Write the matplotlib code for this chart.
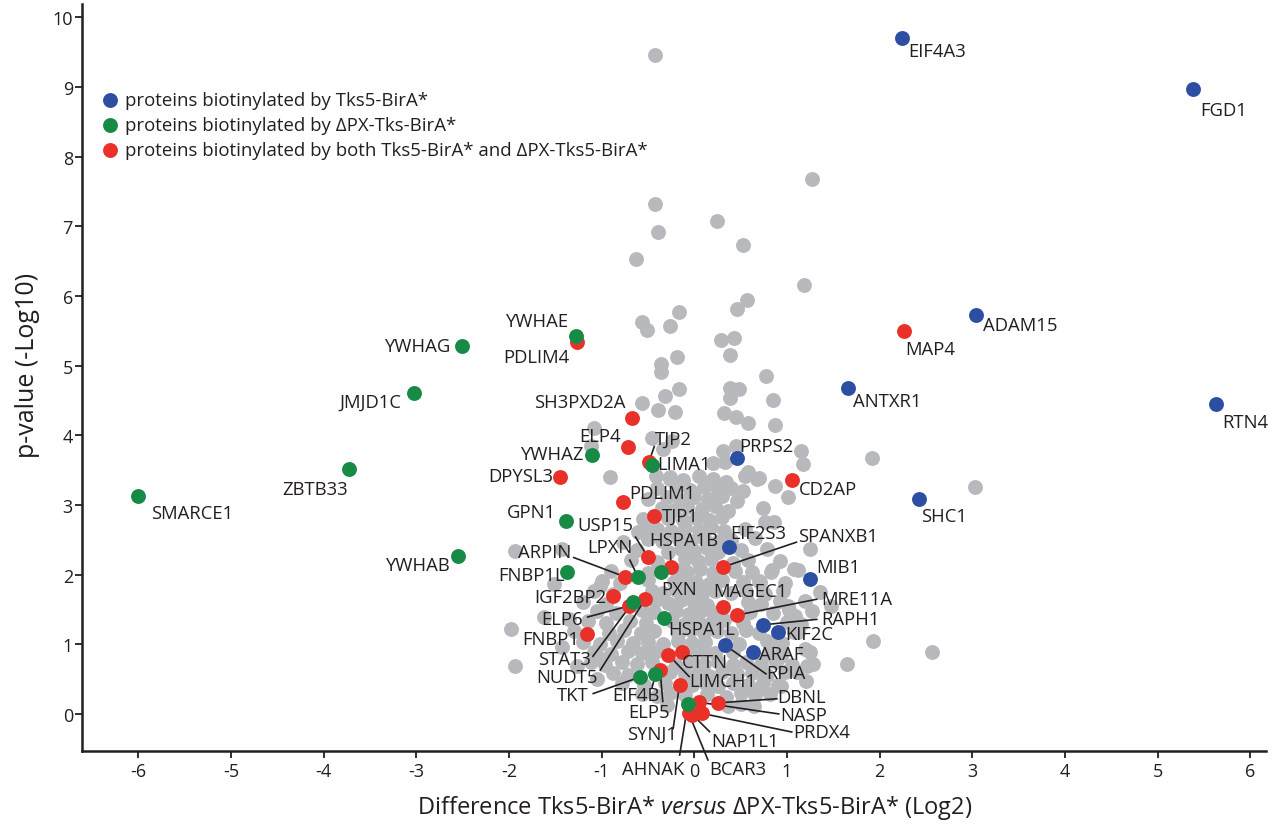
import matplotlib
matplotlib.use("Agg")
import matplotlib.pyplot as plt

plt.rcParams['font.family'] = ['Open Sans', 'DejaVu Sans']
plt.rcParams['mathtext.fontset'] = 'custom'
plt.rcParams['mathtext.rm'] = 'Open Sans'
plt.rcParams['mathtext.it'] = 'Open Sans:italic'

# ---------------------------------------------------------------------------
# Proteins biotinylated by Tks5-BirA* only (log2 difference, -log10 p-value)
blue_names = ['EIF4A3', 'FGD1', 'ADAM15', 'ANTXR1', 'RTN4', 'SHC1', 'PRPS2',
              'EIF2S3', 'MIB1', 'RAPH1', 'KIF2C', 'RPIA', 'ARAF']
blue_x = [2.24, 5.38, 3.04, 1.66, 5.63, 2.42, 0.46, 0.37, 1.25, 0.74, 0.90, 0.33, 0.63]
blue_y = [9.70, 8.97, 5.72, 4.68, 4.45, 3.08, 3.67, 2.40, 1.94, 1.28, 1.18, 0.99, 0.89]

# Proteins biotinylated by dPX-Tks-BirA* only
green_names = ['YWHAG', 'JMJD1C', 'ZBTB33', 'SMARCE1', 'YWHAB', 'YWHAE', 'YWHAZ',
               'LIMA1', 'GPN1', 'FNBP1L', 'LPXN', 'PXN', 'STAT3', 'HSPA1L',
               'TKT', 'EIF4B', 'AHNAK']
green_x = [-2.51, -3.03, -3.73, -6.01, -2.55, -1.28, -1.10, -0.46, -1.39, -1.38,
           -0.61, -0.36, -0.66, -0.33, -0.59, -0.42, -0.07]
green_y = [5.28, 4.61, 3.52, 3.13, 2.27, 5.42, 3.72, 3.57, 2.77, 2.04,
           1.97, 2.04, 1.61, 1.38, 0.53, 0.57, 0.14]

# Proteins biotinylated by both baits
red_names = ['MAP4', 'PDLIM4', 'SH3PXD2A', 'ELP4', 'TJP2', 'DPYSL3', 'CD2AP',
             'PDLIM1', 'TJP1', 'USP15', 'HSPA1B', 'SPANXB1', 'ARPIN', 'IGF2BP2',
             'MAGEC1', 'NUDT5', 'ELP6', 'MRE11A', 'FNBP1', 'CTTN', 'LIMCH1',
             'ELP5', 'SYNJ1', 'DBNL', 'NASP', 'BCAR3', 'NAP1L1', 'PRDX4']
red_x = [2.26, -1.27, -0.67, -0.72, -0.49, -1.45, 1.05, -0.77, -0.44, -0.50,
         -0.25, 0.31, -0.75, -0.88, 0.31, -0.53, -0.71, 0.46, -1.16, -0.13,
         -0.28, -0.37, -0.16, 0.25, 0.05, -0.06, -0.02, 0.08]
red_y = [5.49, 5.34, 4.25, 3.83, 3.62, 3.40, 3.36, 3.04, 2.84, 2.25,
         2.11, 2.11, 1.97, 1.69, 1.54, 1.65, 1.55, 1.42, 1.15, 0.89,
         0.85, 0.63, 0.42, 0.16, 0.17, 0.01, -0.01, 0.01]

# All other quantified proteins
background_points = [
    (-0.43, 9.46), (1.27, 7.68), (-0.42, 7.32), (0.24, 7.07), (-0.39, 6.92),
    (0.53, 6.73), (-0.63, 6.53), (1.18, 6.15), (0.57, 5.94), (0.46, 5.81),
    (-0.17, 5.77), (-0.56, 5.62), (-0.51, 5.51), (-0.26, 5.57), (0.29, 5.37),
    (0.43, 5.39), (0.38, 5.15), (-0.36, 5.02), (-0.19, 5.12), (-0.36, 4.91),
    (0.77, 4.85), (-0.17, 4.66), (0.38, 4.68), (0.48, 4.66), (0.38, 4.53),
    (-0.57, 4.46), (-0.32, 4.56), (-0.39, 4.36), (-0.21, 4.33), (0.32, 4.32),
    (0.45, 4.26), (0.85, 4.50), (0.58, 4.18), (0.87, 4.15), (1.15, 3.77),
    (1.17, 3.59), (-0.46, 3.96), (-0.91, 3.40), (0.31, 3.77), (0.45, 3.85),
    (0.58, 3.47), (0.70, 3.39), (0.33, 3.62), (0.20, 3.60), (1.92, 3.67),
    (3.03, 3.26), (1.25, 2.37), (1.12, 2.07), (1.19, 1.62), (1.27, 1.48),
    (1.48, 1.55), (1.09, 1.41), (1.93, 1.05), (2.56, 0.89), (1.65, 0.72),
    (1.25, 0.89), (1.28, 0.72), (1.21, 0.47), (-1.08, 4.10), (-1.12, 3.84),
    (-0.34, 3.80), (-0.24, 3.92), (-0.41, 3.41), (-0.26, 3.37),
    (-1.94, 2.34), (-1.51, 1.87), (-1.62, 1.39), (-1.35, 1.36), (-1.98, 1.22),
    (-1.43, 0.96), (-1.94, 0.69), (-1.02, 1.84), (-1.43, 2.37), (-0.61, 2.61),
    (-0.77, 2.47), (-0.51, 2.70), (-1.27, 0.69), (-1.00, 0.79), (-1.05, 0.50),
    (0.76, 2.75), (1.08, 2.08), (0.83, 2.04), (0.71, 1.89), (1.05, 1.36),
    (1.12, 1.18), (1.19, 0.93), (0.83, 1.03), (0.94, 0.83), (1.22, 0.69),
    (1.11, 0.60), (0.76, 0.55), (0.69, 0.36), (0.94, 0.40), (1.01, 1.55),
    # dense core
    (-0.26, 3.40), (-0.12, 3.36), (0.05, 3.42), (0.20, 3.38), (0.34, 3.33),
    (0.55, 3.41), (0.68, 3.37),
    (-0.40, 3.24), (-0.20, 3.27), (-0.05, 3.22), (0.10, 3.26), (0.25, 3.21),
    (0.40, 3.25), (0.52, 3.20), (0.87, 3.27),
    (-0.50, 3.08), (-0.30, 3.12), (-0.15, 3.07), (0.00, 3.11), (0.15, 3.09),
    (0.30, 3.13), (0.46, 3.06), (1.01, 3.11),
    (-0.35, 2.96), (-0.22, 2.93), (-0.08, 2.97), (0.08, 2.94), (0.22, 2.98),
    (0.36, 2.92), (0.74, 2.95),
    (-0.55, 2.80), (-0.28, 2.82), (-0.12, 2.78), (0.02, 2.81), (0.16, 2.79),
    (0.30, 2.83), (0.86, 2.76),
    (-0.40, 2.66), (-0.25, 2.63), (-0.10, 2.67), (0.05, 2.64), (0.18, 2.68),
    (0.32, 2.62), (0.55, 2.66),
    (-0.50, 2.51), (-0.35, 2.48), (-0.18, 2.52), (-0.04, 2.49), (0.10, 2.53),
    (0.24, 2.47), (0.40, 2.50), (0.66, 2.52),
    (-0.62, 2.36), (-0.28, 2.33), (-0.14, 2.37), (0.00, 2.34), (0.14, 2.38),
    (0.26, 2.32), (0.50, 2.35), (0.78, 2.37),
    (-0.68, 2.21), (-0.40, 2.18), (-0.10, 2.22), (0.04, 2.19), (0.18, 2.23),
    (0.42, 2.17), (0.58, 2.21), (0.92, 2.19),
    (-0.90, 2.06), (-0.50, 2.03), (-0.20, 2.07), (-0.08, 2.04), (0.06, 2.08),
    (0.20, 2.02), (0.44, 2.06), (0.62, 2.04), (0.84, 2.07),
    (-1.00, 1.91), (-0.80, 1.88), (-0.50, 1.92), (-0.22, 1.89), (-0.10, 1.93),
    (0.02, 1.90), (0.16, 1.87), (0.30, 1.92), (0.52, 1.89), (0.70, 1.91),
    (0.98, 1.88),
    (-1.08, 1.76), (-0.88, 1.73), (-0.46, 1.77), (-0.34, 1.74), (-0.20, 1.78),
    (-0.06, 1.75), (0.08, 1.72), (0.22, 1.77), (0.40, 1.74), (0.56, 1.76),
    (0.76, 1.73), (0.96, 1.77), (1.36, 1.75),
    (-1.20, 1.61), (-0.95, 1.58), (-0.42, 1.62), (-0.28, 1.59), (-0.14, 1.63),
    (0.00, 1.60), (0.14, 1.57), (0.58, 1.61), (0.72, 1.58), (0.92, 1.62),
    (-1.05, 1.48), (-0.85, 1.45), (-0.56, 1.49), (-0.44, 1.46), (-0.20, 1.48),
    (-0.06, 1.44), (0.08, 1.49), (0.20, 1.46), (0.60, 1.47), (0.85, 1.45),
    (1.02, 1.49),
    (-1.15, 1.33), (-0.95, 1.30), (-0.70, 1.34), (-0.52, 1.31), (-0.24, 1.33),
    (-0.10, 1.29), (0.04, 1.34), (0.18, 1.31), (0.32, 1.35), (0.52, 1.30),
    (1.00, 1.32), (1.15, 1.29),
    (-1.30, 1.19), (-0.92, 1.16), (-0.76, 1.20), (-0.58, 1.17), (-0.44, 1.19),
    (-0.18, 1.15), (-0.04, 1.20), (0.10, 1.17), (0.24, 1.19), (0.40, 1.16),
    (0.56, 1.20), (0.70, 1.17), (1.08, 1.18),
    (-1.20, 1.04), (-1.02, 1.01), (-0.84, 1.05), (-0.66, 1.02), (-0.50, 1.04),
    (-0.34, 1.00), (-0.18, 1.05), (-0.02, 1.02), (0.12, 1.04), (0.48, 1.01),
    (0.78, 1.05), (0.95, 1.02),
    (-1.08, 0.89), (-0.90, 0.86), (-0.72, 0.90), (-0.56, 0.87), (-0.42, 0.89),
    (-0.02, 0.85), (0.10, 0.90), (0.22, 0.87), (0.42, 0.89), (0.80, 0.86),
    (0.95, 0.90),
    (-1.12, 0.74), (-0.96, 0.71), (-0.78, 0.75), (-0.62, 0.72), (-0.46, 0.74),
    (-0.20, 0.70), (-0.04, 0.75), (0.10, 0.72), (0.26, 0.74), (0.42, 0.71),
    (0.56, 0.75), (0.72, 0.72), (0.88, 0.74), (1.05, 0.71),
    (-0.88, 0.59), (-0.72, 0.56), (-0.26, 0.60), (-0.10, 0.57), (0.04, 0.59),
    (0.16, 0.55), (0.30, 0.60), (0.46, 0.57), (0.62, 0.59), (0.78, 0.56),
    (0.98, 0.60),
    (-0.78, 0.44), (-0.54, 0.41), (-0.32, 0.45), (-0.02, 0.42), (0.12, 0.44),
    (0.26, 0.40), (0.42, 0.45), (0.58, 0.42), (0.74, 0.44), (0.90, 0.41),
    (-0.56, 0.29), (-0.40, 0.26), (-0.26, 0.30), (-0.10, 0.27), (0.14, 0.29),
    (0.34, 0.25), (0.50, 0.30), (0.66, 0.27), (0.82, 0.29),
    (-0.30, 0.13), (0.36, 0.12), (0.50, 0.15), (0.64, 0.11),
]

x_ticks = [-6, -5, -4, -3, -2, -1, 0, 1, 2, 3, 4, 5, 6]
y_ticks = [0, 1, 2, 3, 4, 5, 6, 7, 8, 9, 10]

legend_labels = ['proteins biotinylated by Tks5-BirA*',
                 'proteins biotinylated by \u0394PX-Tks-BirA*',
                 'proteins biotinylated by both Tks5-BirA* and \u0394PX-Tks5-BirA*']

# Label placement: name -> (text x, text y, leader start or None)
LABEL_LAYOUT = {
    'EIF4A3': (2.31, 9.51, None), 'FGD1': (5.46, 8.67, None),
    'ADAM15': (3.12, 5.58, None), 'MAP4': (2.28, 5.24, None),
    'ANTXR1': (1.71, 4.49, None), 'RTN4': (5.70, 4.19, None),
    'SHC1': (2.45, 2.84, None), 'SMARCE1': (-5.86, 2.88, None),
    'ZBTB33': (-4.45, 3.23, None), 'JMJD1C': (-3.83, 4.48, None),
    'YWHAG': (-3.35, 5.28, None), 'YWHAE': (-2.04, 5.64, None),
    'PDLIM4': (-2.06, 5.12, None), 'YWHAB': (-3.34, 2.14, None),
    'SH3PXD2A': (-1.73, 4.48, None), 'ELP4': (-1.24, 3.99, None),
    'YWHAZ': (-1.88, 3.73, None), 'TJP2': (-0.43, 3.95, (-0.43, 3.85)),
    'LIMA1': (-0.40, 3.59, None), 'DPYSL3': (-2.22, 3.41, None),
    'PRPS2': (0.49, 3.85, None), 'CD2AP': (1.13, 3.23, None),
    'PDLIM1': (-0.70, 3.17, None), 'TJP1': (-0.35, 2.84, None),
    'GPN1': (-2.02, 2.90, None), 'USP15': (-1.26, 2.71, (-0.64, 2.55)),
    'EIF2S3': (0.39, 2.60, None), 'SPANXB1': (1.12, 2.55, (1.11, 2.47)),
    'HSPA1B': (-0.49, 2.50, (-0.26, 2.34)), 'LPXN': (-1.16, 2.40, (-0.70, 2.22)),
    'ARPIN': (-1.90, 2.32, (-1.31, 2.25)), 'MIB1': (1.32, 2.11, None),
    'FNBP1L': (-2.12, 1.99, None), 'PXN': (-0.36, 1.79, None),
    'MAGEC1': (0.20, 1.76, None), 'IGF2BP2': (-1.73, 1.68, None),
    'MRE11A': (1.37, 1.65, (1.33, 1.65)), 'ELP6': (-1.65, 1.36, (-1.16, 1.39)),
    'RAPH1': (1.37, 1.36, (1.33, 1.36)), 'HSPA1L': (-0.28, 1.22, None),
    'KIF2C': (0.98, 1.15, None), 'FNBP1': (-1.86, 1.08, None),
    'STAT3': (-1.69, 0.79, (-1.10, 0.82)), 'ARAF': (0.70, 0.86, None),
    'CTTN': (-0.13, 0.75, None), 'NUDT5': (-1.71, 0.53, (-1.02, 0.62)),
    'RPIA': (0.78, 0.59, (0.78, 0.57)), 'LIMCH1': (-0.05, 0.47, (-0.05, 0.53)),
    'TKT': (-1.48, 0.27, (-1.10, 0.29)), 'EIF4B': (-0.89, 0.27, (-0.46, 0.36)),
    'DBNL': (0.90, 0.24, (0.90, 0.22)), 'ELP5': (-0.71, 0.03, (-0.34, 0.17)),
    'NASP': (0.93, -0.01, (0.92, 0.00)), 'SYNJ1': (-0.73, -0.29, (-0.23, -0.22)),
    'PRDX4': (1.07, -0.26, (1.06, -0.26)), 'NAP1L1': (0.18, -0.39, (0.17, -0.26)),
    'AHNAK': (-0.78, -0.79, (-0.16, -0.60)), 'BCAR3': (0.16, -0.79, (0.15, -0.67)),
}

COL_BLUE = '#2c4ea3'
COL_GREEN = '#178a46'
COL_RED = '#ea3129'
COL_GRAY = '#b8b9bc'
INK = '#231f20'
DOT = 115

fig = plt.figure(figsize=(12.79, 8.29), dpi=100)
ax = fig.add_axes([0.0641, 0.0929, 0.9257, 0.9011])

bx = [p[0] for p in background_points]
by = [p[1] for p in background_points]
ax.scatter(bx, by, s=DOT, color=COL_GRAY, linewidths=0, zorder=2)

groups = [(red_names, red_x, red_y, COL_RED, 4),
          (green_names, green_x, green_y, COL_GREEN, 5),
          (blue_names, blue_x, blue_y, COL_BLUE, 6)]

for names, xs, ys, col, z in groups:
    ax.scatter(xs, ys, s=DOT, color=col, linewidths=0, zorder=z)
    for name, px, py in zip(names, xs, ys):
        tx, ty, start = LABEL_LAYOUT[name]
        ax.text(tx, ty, name, fontsize=13.3, color=INK, ha='left', va='center',
                zorder=7, clip_on=False)
        if start is not None:
            ax.plot([start[0], px], [start[1], py], color=INK, lw=1.2,
                    zorder=3, clip_on=False, solid_capstyle='butt')

# legend drawn as markers and text in axes coordinates
leg_cols = [COL_BLUE, COL_GREEN, COL_RED]
leg_rows = [0.8715, 0.838, 0.8046]
for col, lab, ry in zip(leg_cols, legend_labels, leg_rows):
    ax.scatter([0.0236], [ry], s=DOT, color=col, linewidths=0,
               transform=ax.transAxes, clip_on=False, zorder=6)
    ax.text(0.0363, ry, lab, transform=ax.transAxes, fontsize=13.4,
            color=INK, ha='left', va='center')

ax.set_xlim(-6.61, 6.17)
ax.set_ylim(-0.53, 10.19)
ax.set_xticks(x_ticks)
ax.set_xticklabels([str(t) for t in x_ticks])
ax.set_yticks(y_ticks)
ax.set_yticklabels([str(t) for t in y_ticks])

for side in ('top', 'right'):
    ax.spines[side].set_visible(False)
for side in ('left', 'bottom'):
    ax.spines[side].set_linewidth(1.8)
    ax.spines[side].set_color(INK)
ax.tick_params(axis='both', direction='out', length=5, width=1.3,
               colors=INK, labelsize=13)
ax.tick_params(axis='y', pad=1.5)
ax.tick_params(axis='x', pad=3)

ax.set_xlabel('Difference Tks5-BirA* $\\it{versus}$ \u0394PX-Tks5-BirA* (Log2)',
              fontsize=17, color=INK, labelpad=9)
ax.set_ylabel('p-value (-Log10)', fontsize=18, color=INK, labelpad=9)
# axis titles sit over the zero difference and mid-scale p-value
ax.xaxis.label.set_x(0.517)
ax.yaxis.label.set_y(0.517)

fig.savefig('out.png', dpi=100)
